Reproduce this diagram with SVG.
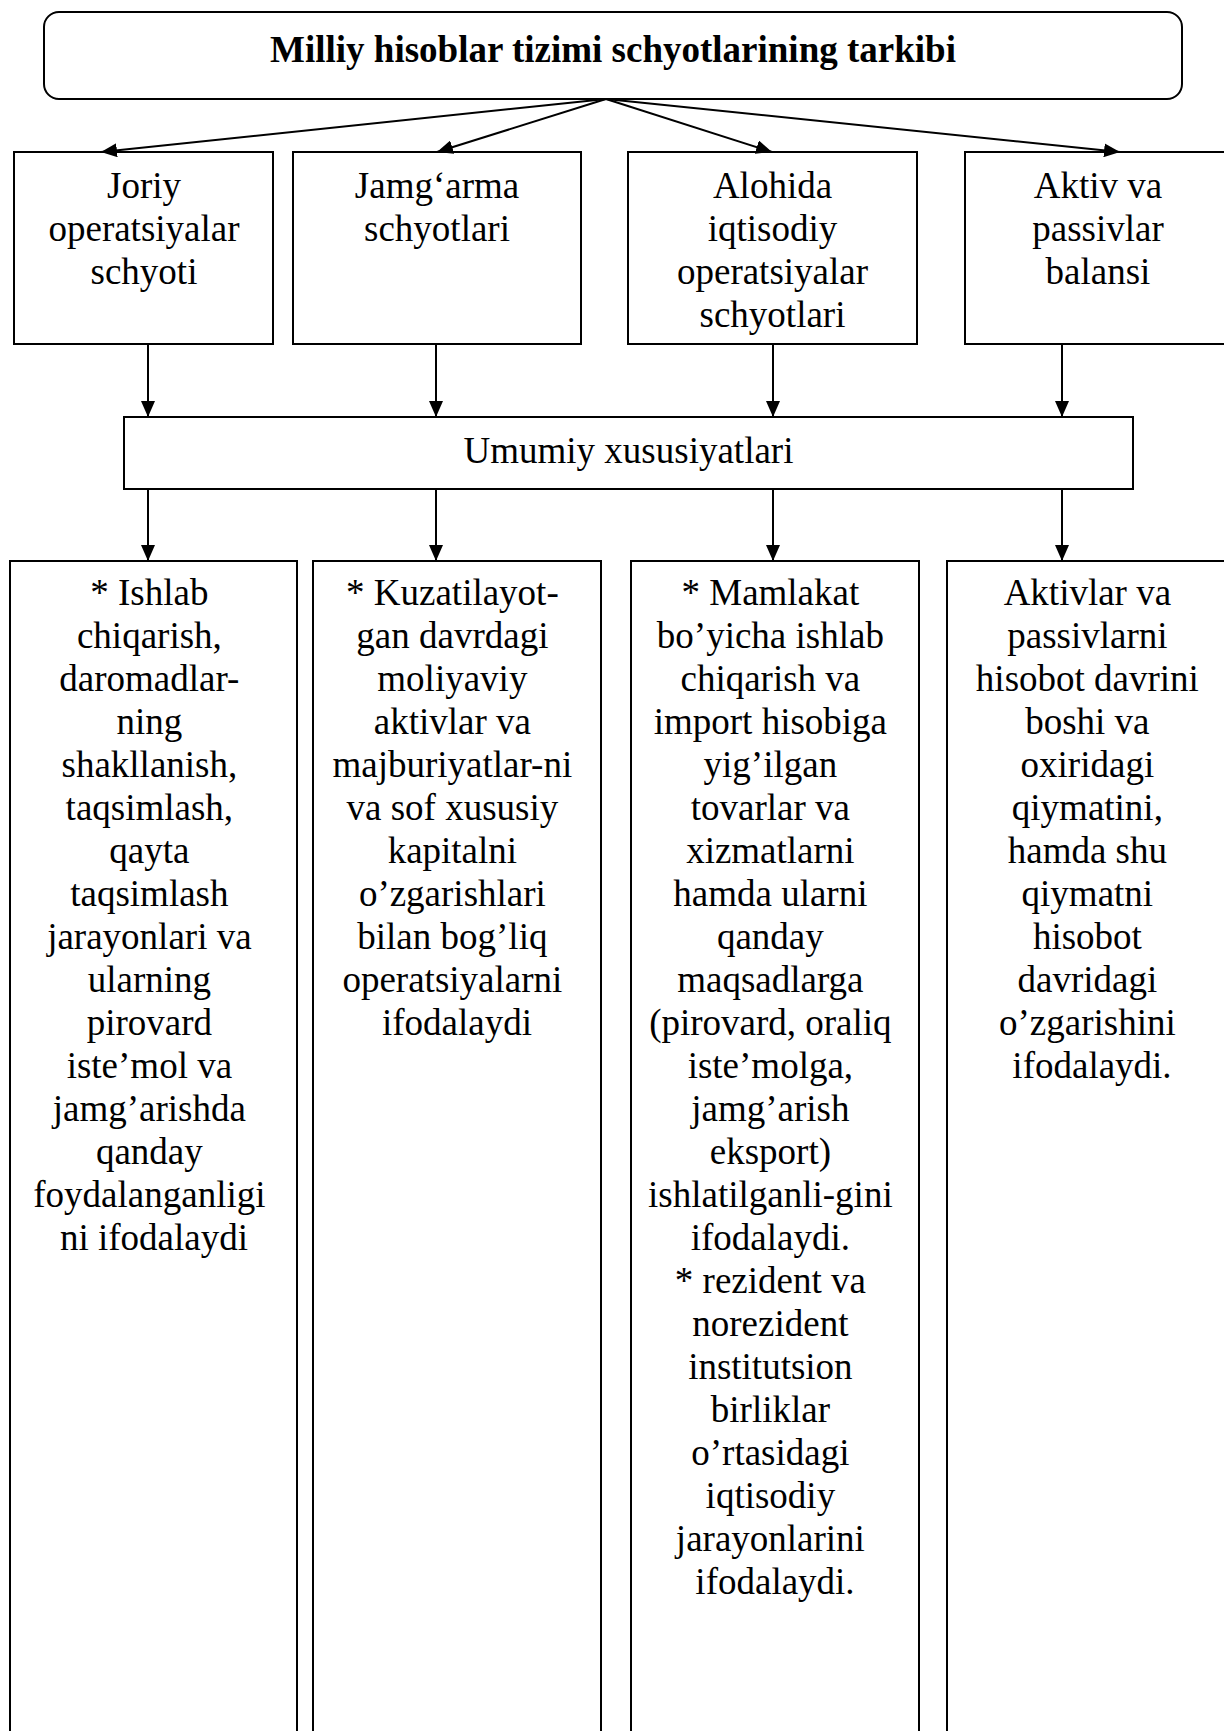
<svg xmlns="http://www.w3.org/2000/svg" width="1224" height="1731" viewBox="0 0 1224 1731">
<style>
.box{fill:#fff;stroke:#000;stroke-width:2}
.t{font-family:"Liberation Serif","Times New Roman",serif;font-size:37px;text-anchor:middle;fill:#000}
.b{font-weight:bold}
.c{stroke:#000;stroke-width:2;fill:none;marker-end:url(#ah)}
</style>
<defs>
<marker id="ah" viewBox="0 0 16 14" refX="16" refY="7" markerWidth="16" markerHeight="14" markerUnits="userSpaceOnUse" orient="auto">
<path d="M0,0 L16,7 L0,14 z" fill="#000"/>
</marker>
</defs>
<rect width="1224" height="1731" fill="#fff"/>

<g id="title">
<rect class="box" x="44" y="12" width="1138" height="87" rx="15" ry="15"/>
<text class="t b" x="613" y="62">Milliy hisoblar tizimi schyotlarining tarkibi</text>
</g>

<g id="joriy">
<rect class="box" x="14" y="152" width="259" height="192"/>
<text class="t"><tspan x="144" y="198">Joriy</tspan><tspan x="144" y="241">operatsiyalar</tspan><tspan x="144" y="284">schyoti</tspan></text>
</g>

<g id="jamgarma">
<rect class="box" x="293" y="152" width="288" height="192"/>
<text class="t"><tspan x="437" y="198">Jamg‘arma</tspan><tspan x="437" y="241">schyotlari</tspan></text>
</g>

<g id="alohida">
<rect class="box" x="628" y="152" width="289" height="192"/>
<text class="t"><tspan x="772.5" y="198">Alohida</tspan><tspan x="772.5" y="241">iqtisodiy</tspan><tspan x="772.5" y="284">operatsiyalar</tspan><tspan x="772.5" y="327">schyotlari</tspan></text>
</g>

<g id="aktiv">
<rect class="box" x="965" y="152" width="268" height="192"/>
<text class="t"><tspan x="1098" y="198">Aktiv va</tspan><tspan x="1098" y="241">passivlar</tspan><tspan x="1098" y="284">balansi</tspan></text>
</g>

<g id="umumiy">
<rect class="box" x="124" y="417" width="1009" height="72"/>
<text class="t" x="628.5" y="463">Umumiy xususiyatlari</text>
</g>

<g id="desc1">
<rect class="box" x="10" y="561" width="287" height="1250"/>
<text class="t">
<tspan x="154" y="605">* Ishlab</tspan>
<tspan x="154" y="648">chiqarish,</tspan>
<tspan x="154" y="691">daromadlar-</tspan>
<tspan x="154" y="734">ning</tspan>
<tspan x="154" y="777">shakllanish,</tspan>
<tspan x="154" y="820">taqsimlash,</tspan>
<tspan x="154" y="863">qayta</tspan>
<tspan x="154" y="906">taqsimlash</tspan>
<tspan x="154" y="949">jarayonlari va</tspan>
<tspan x="154" y="992">ularning</tspan>
<tspan x="154" y="1035">pirovard</tspan>
<tspan x="154" y="1078">iste’mol va</tspan>
<tspan x="154" y="1121">jamg’arishda</tspan>
<tspan x="154" y="1164">qanday</tspan>
<tspan x="154" y="1207">foydalanganligi</tspan>
<tspan x="154" y="1250">ni ifodalaydi</tspan>
</text>
</g>

<g id="desc2">
<rect class="box" x="313" y="561" width="288" height="1250"/>
<text class="t">
<tspan x="457" y="605">* Kuzatilayot-</tspan>
<tspan x="457" y="648">gan davrdagi</tspan>
<tspan x="457" y="691">moliyaviy</tspan>
<tspan x="457" y="734">aktivlar va</tspan>
<tspan x="457" y="777">majburiyatlar-ni</tspan>
<tspan x="457" y="820">va sof xususiy</tspan>
<tspan x="457" y="863">kapitalni</tspan>
<tspan x="457" y="906">o’zgarishlari</tspan>
<tspan x="457" y="949">bilan bog’liq</tspan>
<tspan x="457" y="992">operatsiyalarni</tspan>
<tspan x="457" y="1035">ifodalaydi</tspan>
</text>
</g>

<g id="desc3">
<rect class="box" x="631" y="561" width="288" height="1250"/>
<text class="t">
<tspan x="775" y="605">* Mamlakat</tspan>
<tspan x="775" y="648">bo’yicha ishlab</tspan>
<tspan x="775" y="691">chiqarish va</tspan>
<tspan x="775" y="734">import hisobiga</tspan>
<tspan x="775" y="777">yig’ilgan</tspan>
<tspan x="775" y="820">tovarlar va</tspan>
<tspan x="775" y="863">xizmatlarni</tspan>
<tspan x="775" y="906">hamda ularni</tspan>
<tspan x="775" y="949">qanday</tspan>
<tspan x="775" y="992">maqsadlarga</tspan>
<tspan x="775" y="1035">(pirovard, oraliq</tspan>
<tspan x="775" y="1078">iste’molga,</tspan>
<tspan x="775" y="1121">jamg’arish</tspan>
<tspan x="775" y="1164">eksport)</tspan>
<tspan x="775" y="1207">ishlatilganli-gini</tspan>
<tspan x="775" y="1250">ifodalaydi.</tspan>
<tspan x="775" y="1293">* rezident va</tspan>
<tspan x="775" y="1336">norezident</tspan>
<tspan x="775" y="1379">institutsion</tspan>
<tspan x="775" y="1422">birliklar</tspan>
<tspan x="775" y="1465">o’rtasidagi</tspan>
<tspan x="775" y="1508">iqtisodiy</tspan>
<tspan x="775" y="1551">jarayonlarini</tspan>
<tspan x="775" y="1594">ifodalaydi.</tspan>
</text>
</g>

<g id="desc4">
<rect class="box" x="947" y="561" width="290" height="1250"/>
<text class="t">
<tspan x="1092" y="605">Aktivlar va</tspan>
<tspan x="1092" y="648">passivlarni</tspan>
<tspan x="1092" y="691">hisobot davrini</tspan>
<tspan x="1092" y="734">boshi va</tspan>
<tspan x="1092" y="777">oxiridagi</tspan>
<tspan x="1092" y="820">qiymatini,</tspan>
<tspan x="1092" y="863">hamda shu</tspan>
<tspan x="1092" y="906">qiymatni</tspan>
<tspan x="1092" y="949">hisobot</tspan>
<tspan x="1092" y="992">davridagi</tspan>
<tspan x="1092" y="1035">o’zgarishini</tspan>
<tspan x="1092" y="1078">ifodalaydi.</tspan>
</text>
</g>

<g id="connectors">
<line class="c" x1="606" y1="99" x2="101" y2="152"/>
<line class="c" x1="606" y1="99" x2="437" y2="152"/>
<line class="c" x1="606" y1="99" x2="772" y2="152"/>
<line class="c" x1="606" y1="99" x2="1120" y2="152"/>
<line class="c" x1="148" y1="344" x2="148" y2="417"/>
<line class="c" x1="436" y1="344" x2="436" y2="417"/>
<line class="c" x1="773" y1="344" x2="773" y2="417"/>
<line class="c" x1="1062" y1="344" x2="1062" y2="417"/>
<line class="c" x1="148" y1="489" x2="148" y2="561"/>
<line class="c" x1="436" y1="489" x2="436" y2="561"/>
<line class="c" x1="773" y1="489" x2="773" y2="561"/>
<line class="c" x1="1062" y1="489" x2="1062" y2="561"/>
</g>
</svg>
